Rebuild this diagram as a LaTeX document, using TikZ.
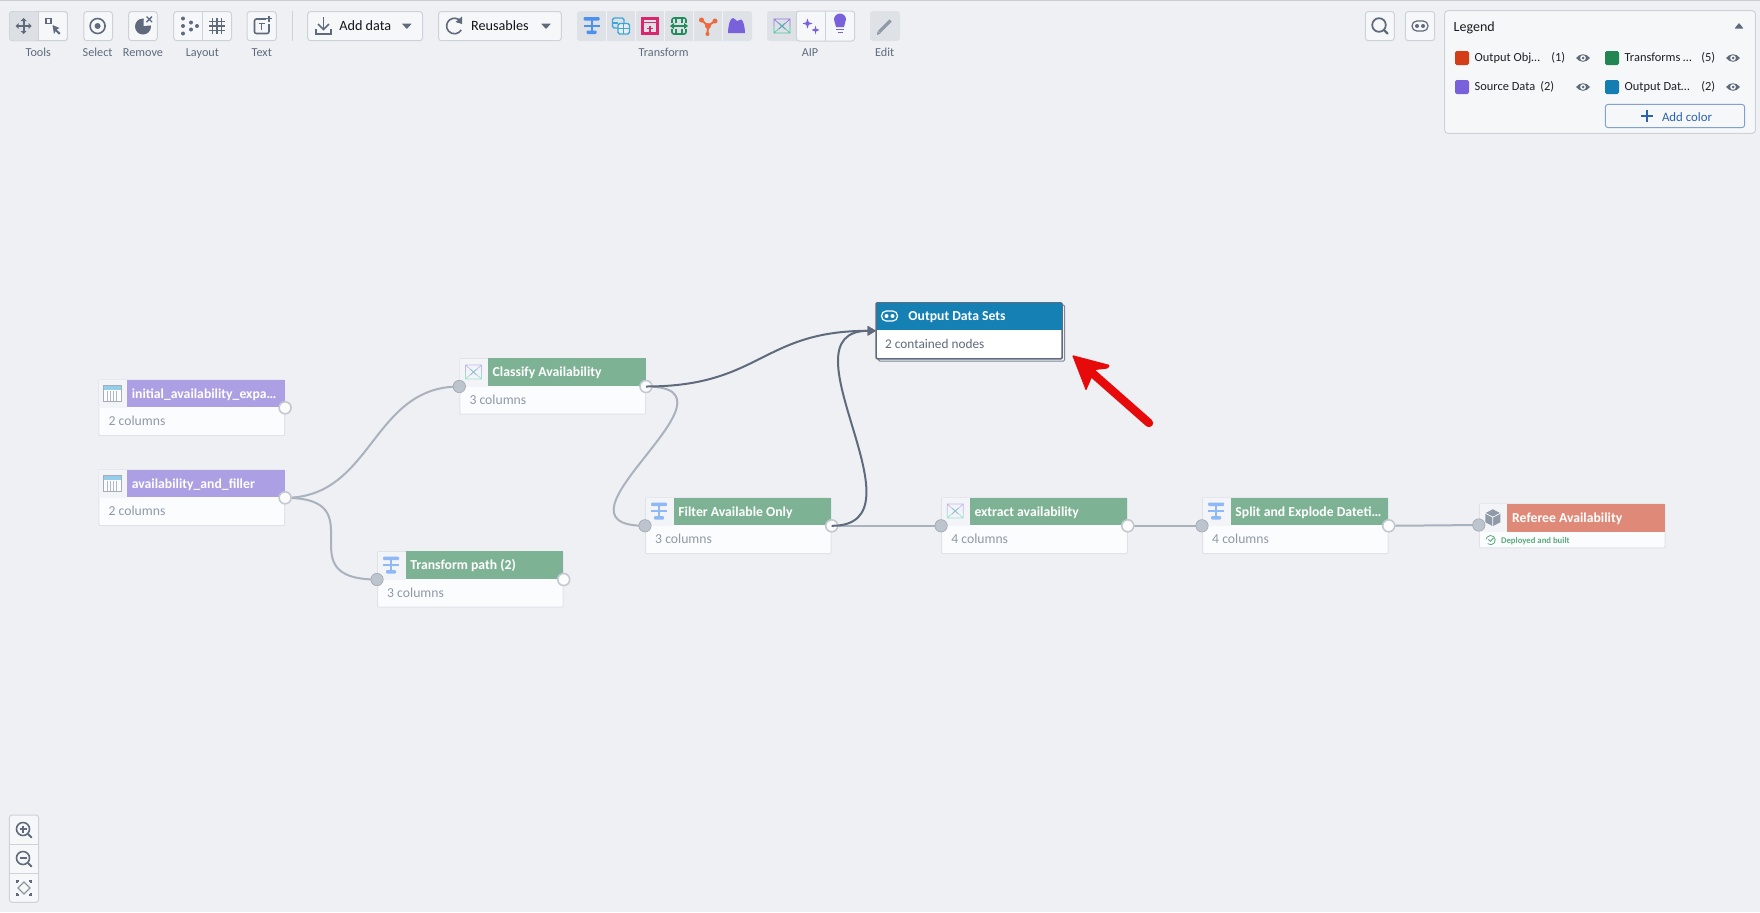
\documentclass[tikz,border=0pt]{standalone}
\usepackage{fontspec}
\setmainfont{Carlito}
\usetikzlibrary{arrows.meta,calc}
\definecolor{canvasc}{HTML}{EEF0F4}
\definecolor{labelc}{HTML}{5F6B7C}
\definecolor{subc}{HTML}{8F99A8}
\definecolor{edgec}{HTML}{A9B2BD}
\definecolor{darkedge}{HTML}{5F6B7C}
\definecolor{portfill}{HTML}{BCC4CD}
\definecolor{borderc}{HTML}{DFE3E8}
\definecolor{btnborder}{HTML}{CDD2D9}
\definecolor{btnfill}{HTML}{F6F7F9}
\definecolor{activec}{HTML}{DCDFE4}
\definecolor{iconc}{HTML}{5F6B7C}
\definecolor{headpurple}{HTML}{AC9FE4}
\definecolor{headgreen}{HTML}{7EB294}
\definecolor{headblue}{HTML}{1580B4}
\definecolor{headsalmon}{HTML}{DF8A78}
\definecolor{tblue}{HTML}{4C90F0}
\definecolor{tlight}{HTML}{8FB8F6}
\definecolor{tteal}{HTML}{3FA6DA}
\definecolor{tcrimson}{HTML}{D9266E}
\definecolor{tgreen}{HTML}{238C5C}
\definecolor{torange}{HTML}{EC6A3C}
\definecolor{tpurple}{HTML}{7961DB}
\definecolor{lorange}{HTML}{D33D17}
\definecolor{lgreen}{HTML}{238551}
\definecolor{lblue}{HTML}{147EB3}
\definecolor{addblue}{HTML}{2D62AE}
\definecolor{redarrow}{HTML}{E60A0A}
\definecolor{okgreen}{HTML}{5BA97F}
\pgfdeclarelayer{bg}\pgfdeclarelayer{edges}
\pgfsetlayers{bg,edges,main}
\tikzset{
  cardbody/.style={draw=borderc,line width=.5pt,fill=white!60!btnfill,minimum width=92.85pt,minimum height=27.85pt,inner sep=0pt,rounded corners=.5pt},
  cardicon/.style={fill=canvasc!70!white,minimum width=14pt,minimum height=13.85pt,inner sep=0pt},
  cardhead/.style={minimum width=78.85pt,minimum height=13.85pt,inner sep=0pt},
  cardtitle/.style={text=white,font=\fontsize{6.85}{8}\selectfont\bfseries,inner sep=0pt,text height=5pt,text depth=1.3pt},
  cardsub/.style={text=subc,font=\fontsize{6.85}{8}\selectfont,inner sep=0pt,text height=5pt,text depth=1.3pt},
  portin/.style={circle,fill=portfill,draw=portfill!85!black,line width=.3pt,minimum size=6.2pt,inner sep=0pt},
  portout/.style={circle,fill=white!80!canvasc,draw=edgec!70!white,line width=.8pt,minimum size=6pt,inner sep=0pt},
  lbl/.style={text=labelc,font=\fontsize{6.1}{7}\selectfont,inner sep=0pt,text height=4.4pt,text depth=1.2pt},
  btntext/.style={text=black!80!labelc,font=\fontsize{7.1}{8}\selectfont,inner sep=0pt,text height=5.2pt,text depth=1.3pt},
  lgd/.style={text=black!70!labelc,font=\fontsize{6.2}{8}\selectfont,inner sep=0pt,anchor=west,text height=4.5pt,text depth=1.2pt},
  toolbtn/.style={draw=btnborder,line width=.5pt,fill=btnfill,rounded corners=1.5pt},
  greybtn/.style={fill=activec!90!canvasc,rounded corners=1.5pt},
  edgeline/.style={draw=edgec,line width=1pt},
  darkline/.style={draw=darkedge,line width=1pt},
  arrowed/.style={-{Triangle[length=4.2pt,width=4.6pt]}},
}
\newcommand\card[6]{%
  \node[cardbody,anchor=north west] (#1) at (#2-.7,#3) {};
  \node[cardicon,anchor=north west] (#1-cell) at ([shift={(.25pt,-.25pt)}]#1.north west) {};
  \node[cardhead,fill=#4,anchor=north east] (#1-head) at (#1.north east) {};
  \node[cardtitle,anchor=west] (#1-title) at ([xshift=2.4pt,yshift=-.5pt]#1-head.west) {#5};
  \node[cardsub,anchor=west] (#1-sub) at ([xshift=4.9pt,yshift=-21.4pt]#1.north west) {#6};
}
\newcommand\inport[1]{\node[portin] (#1-in) at (#1-head.south west -| #1.west) {};}
\newcommand\outport[1]{\node[portout] (#1-out) at (#1-head.south east) {};}
\newcommand\icontransform[3]{\begin{scope}[shift={(#1,#2)}]
  \fill[#3,rounded corners=.5pt] (-8,-8.5) rectangle (8,-5);
  \fill[#3] (-8,-1) rectangle (8,1);
  \fill[#3] (-1,-8) rectangle (1,8);
  \fill[#3,rounded corners=.5pt] (-5,5) rectangle (5,8.5);
\end{scope}}
\newcommand\icontable[2]{\begin{scope}[shift={(#1,#2)}]
  \fill[white!60!btnfill] (-9,-8) rectangle (9,8);
  \fill[tteal!55!white] (-9,-8) rectangle (9,-3.5);
  \foreach \x in {-5,-2,1,4} \draw[subc!70!white,line width=.3pt] (\x,-3) -- (\x,7.5);
  \draw[subc!80!white,line width=.4pt] (-9,-8) rectangle (9,8);
\end{scope}}
\newcommand\iconhour[3]{\begin{scope}[shift={(#1,#2)},line width=.35pt,opacity=#3]
  \draw[tpurple] (-8,0) -- (-8,-7) -- (8,-7) -- (8,0) (-8,-7) -- (3,3) (8,-7) -- (-3,3);
  \draw[tteal!70!green] (-8,0) -- (-8,7) -- (8,7) -- (8,0) (-8,7) -- (3,-3) (8,7) -- (-3,-3);
\end{scope}}
\newcommand\iconeye[2]{\begin{scope}[shift={(#1,#2)}]
  \fill[iconc] (-7,0) .. controls (-3,-5) and (3,-5) .. (7,0) .. controls (3,5) and (-3,5) .. (-7,0);
  \fill[white] (0,0) circle (2.8);
  \fill[iconc] (0,0) circle (1.5);
\end{scope}}
\newcommand\iconpill[3]{\begin{scope}[shift={(#1,#2)}]
  \draw[#3,line width=.6pt,rounded corners=2.4pt] (-8,-5) rectangle (8,5);
  \fill[#3] (-3,0) circle (2) (3,0) circle (2);
\end{scope}}
\newcommand\caret[2]{\fill[iconc,rounded corners=.3pt] (#1-5,#2-2.5) -- (#1+5,#2-2.5) -- (#1,#2+3) -- cycle;}
\begin{document}
\begin{tikzpicture}[x=.5pt,y=-.5pt]
\useasboundingbox (0,0) rectangle (1760,912);
\begin{pgfonlayer}{bg}
  \fill[canvasc] (0,0) rectangle (1760,912);
  \fill[black!15!canvasc] (0,0) rectangle (1760,1.2);
\end{pgfonlayer}

% ---- cards
\card{initial}{99.1}{379.3}{headpurple}{initial\_availability\_expa…}{2 columns}
\card{avail}{99.1}{469.3}{headpurple}{availability\_and\_filler}{2 columns}
\card{classify}{460}{358}{headgreen}{Classify Availability}{3 columns}
\card{tpath}{377.7}{551}{headgreen}{Transform path (2)}{3 columns}
\card{filter}{645.7}{497.3}{headgreen}{Filter Available Only}{3 columns}
\card{extract}{941.8}{497.3}{headgreen}{extract availability}{4 columns}
\card{split}{1202.7}{497.3}{headgreen}{Split and Explode Dateti…}{4 columns}

% referee (short card)
\node[cardbody,minimum height=22pt,anchor=north west] (referee) at (1478.8,503.3) {};
\node[cardicon,anchor=north west] (referee-cell) at ([shift={(.25pt,-.25pt)}]referee.north west) {};
\node[cardhead,minimum height=14pt,fill=headsalmon,anchor=north east] (referee-head) at (referee.north east) {};
\node[cardtitle,anchor=west] (referee-title) at ([xshift=2.4pt,yshift=-.5pt]referee-head.west) {Referee Availability};
\node[inner sep=0pt,text=okgreen,font=\fontsize{4.35}{6}\selectfont\bfseries,anchor=west] (referee-sub) at (1500.7,540.8) {Deployed and built};
\node[portin] (referee-in) at (1478.8,525) {};

% output group
\node[draw=darkedge!80!white,line width=.5pt,fill=canvasc,minimum width=93pt,minimum height=28pt,inner sep=0pt,anchor=north west,rounded corners=.6pt] (outputback) at (878.1,304.6) {};
\node[draw=darkedge,line width=.8pt,fill=white,minimum width=93pt,minimum height=28pt,inner sep=0pt,anchor=north west,rounded corners=.6pt] (output) at (875.3,302) {};
\node[fill=headblue,minimum width=92.6pt,minimum height=13.8pt,inner sep=0pt,anchor=north] (output-head) at ([yshift=-.2pt]output.north) {};
\node[cardtitle,anchor=west] (output-title) at (908,316.6) {Output Data Sets};
\node[cardsub,text=labelc,font=\fontsize{6.65}{8}\selectfont,anchor=west] (output-sub) at (884.7,344.6) {2 contained nodes};
\coordinate (output-in) at (output-head.south west);

% ports
\foreach \n in {classify,tpath,filter,extract,split} {\inport{\n}}
\foreach \n in {initial,avail,classify,tpath,filter,extract,split} {\outport{\n}}

% card icons
\icontable{112.6}{393.5}
\icontable{112.6}{483.5}
\icontransform{391}{565}{tlight}
\icontransform{659}{511}{tlight}
\icontransform{1216}{511}{tlight}
\iconhour{473.5}{372}{.4}
\iconhour{955.2}{511}{.4}
\begin{scope}[shift={(1492.8,517.7)}]
  \fill[subc] (0,-8.5) -- (7.5,-4.5) -- (7.5,4.5) -- (0,8.5) -- (-7.5,4.5) -- (-7.5,-4.5) -- cycle;
  \draw[white,line width=.35pt] (-7.5,-4.5) -- (0,-.5) -- (7.5,-4.5) (0,-.5) -- (0,8.5);
\end{scope}
\begin{scope}[shift={(1490.7,539.8)}]
  \draw[okgreen,line width=.4pt] (-3,3.8) arc[start angle=130,end angle=-170,radius=4.6];
  \draw[okgreen,line width=.45pt] (-2.3,-.3) -- (-.4,1.6) -- (2.8,-2);
\end{scope}
\iconpill{889.5}{316}{white}

% connectors
\begin{pgfonlayer}{edges}
  \draw[edgeline] (avail-out.center) .. controls +(88,0) and +(-88,0) .. (classify-in.center);
  \draw[edgeline] (avail-out.center) .. controls +(93,0) and +(-93,0) .. (tpath-in.center);
  \draw[edgeline] (classify-out.center) .. controls +(109,0) and +(-109,0) .. (filter-in.center);
  \draw[edgeline] (filter-out.center) -- (extract-in.center);
  \draw[edgeline] (extract-out.center) -- (split-in.center);
  \draw[edgeline] (split-out.center) -- (referee-in.center);
\end{pgfonlayer}
\draw[darkline,arrowed] (classify-out.center) .. controls +(115,0) and +(-115,0) .. (output-in);
\draw[darkline,arrowed] (filter-out.center) .. controls +(99,0) and +(-99,0) .. (output-in);

% red annotation arrow
\coordinate (redtail) at (1149,423);
\coordinate (rednear) at (1090,371);
\draw[redarrow,line width=4.2pt,line cap=round] (redtail) -- (rednear);
\fill[redarrow,rounded corners=.6pt] (1072,355) -- (1110,365) -- (1108,368.5) -- (1095,370) -- (1089,384) -- (1086,391) -- cycle;

% ---- toolbar
\fill[toolbtn] (9.6,11.5) rectangle (67.4,40.7);
\draw[toolbtn] (9.6,11.5) rectangle (67.4,40.7);
\fill[activec,rounded corners=1.5pt] (9.8,11.7) rectangle (38.6,40.5);
\draw[btnborder,line width=.5pt] (38.6,11.5) -- (38.6,40.7);
\draw[toolbtn] (83.8,11.5) rectangle (112.5,40.7);
\draw[toolbtn] (128.6,11.5) rectangle (157.3,40.7);
\draw[toolbtn] (173.7,11.5) rectangle (231.5,40.7);
\draw[btnborder,line width=.5pt] (202.4,11.5) -- (202.4,40.7);
\draw[toolbtn] (247,11.5) rectangle (276.3,40.7);
\draw[btnborder,line width=.5pt] (292.8,11) -- (292.8,40.5);
\draw[toolbtn] (307.7,11.5) rectangle (422.5,40.7);
\draw[toolbtn] (438.5,11.5) rectangle (561.4,40.7);
% tools icons
\begin{scope}[shift={(23.7,26)},iconc]
  \draw[iconc,line width=.9pt] (-6,0) -- (6,0) (0,-6) -- (0,6);
  \fill[iconc] (-8,0) -- (-5,-3) -- (-5,3) -- cycle (8,0) -- (5,-3) -- (5,3) -- cycle (0,-8) -- (-3,-5) -- (3,-5) -- cycle (0,8) -- (-3,5) -- (3,5) -- cycle;
\end{scope}
\begin{scope}[shift={(52.5,26)}]
  \draw[iconc,line width=.8pt] (-6.5,-7.5) rectangle (-1.5,-2.5);
  \fill[iconc] (0,-1) -- (7,2) -- (4,3.5) -- (8,7) -- (6.5,8.5) -- (3,5) -- (1.5,8) -- cycle;
\end{scope}
\draw[iconc,line width=.8pt] (97.6,26) circle (7.5);
\fill[iconc] (97.6,26) circle (3);
% remove icon: pie with a bite and a cross
\fill[iconc] (143,26.5) circle (8);
\fill[btnfill] (143.5,26) -- (144,14) -- (156,14) -- (156,25) -- cycle;
\draw[iconc,line width=.7pt] (146.5,16.5) -- (152,22) (152,16.5) -- (146.5,22);
\foreach \a/\b in {183/18.5,183/26,183/33.5,191/22.5,191/29.5,197/26} \fill[iconc] (\a,\b) circle (2);
\draw[iconc,line width=.8pt] (209,21.5) -- (225,21.5) (209,30.5) -- (225,30.5) (212.5,18) -- (212.5,34) (221.5,18) -- (221.5,34) (209,26) -- (225,26) (217,18) -- (217,34);
\draw[iconc,line width=.8pt,rounded corners=1pt] (266,19) -- (254.5,19) -- (254.5,33.5) -- (269,33.5) -- (269,24);
\draw[iconc,line width=.6pt] (258.5,23.5) -- (265,23.5) (261.8,23.5) -- (261.8,30);
\draw[iconc,line width=.6pt] (269,16) -- (269,21.5) (266.2,18.8) -- (271.8,18.8);
\draw[iconc,line width=.8pt] (323.5,17) -- (323.5,29);
\draw[iconc,line width=.8pt] (318,24) -- (323.5,29.5) -- (329,24);
\draw[iconc,line width=.8pt] (316,29) -- (316,34) -- (331,34) -- (331,29);
% refresh icon (y axis runs downward, so angles are mirrored)
\draw[iconc,line width=.8pt] (460.4,21) arc[start angle=-40,end angle=-330,radius=7.8];
\fill[iconc] (462,16.5) -- (462,24) -- (455.5,22) -- cycle;
\node[btntext,anchor=west] (adddata) at (339,26.5) {Add data};
\node[btntext,anchor=west] (reusables) at (470.7,26.5) {Reusables};
\caret{406.8}{26}
\caret{546}{26}

% transform group
\fill[greybtn] (577,11) rectangle (752,41);
\foreach \x in {606.7,635.7,664.7,693.7,722.7} \draw[white!60!activec,line width=.4pt] (\x,11) -- (\x,41);
\icontransform{591.7}{25.5}{tblue}
\begin{scope}[shift={(621,26)},tteal]
  \draw[tteal,line width=.7pt,rounded corners=.8pt] (-8.5,-8) rectangle (3,2);
  \fill[white!40!activec] (-3,-2.5) rectangle (8.5,8);
  \draw[tteal,line width=.7pt,rounded corners=.8pt] (-3,-2.5) rectangle (8.5,8);
  \draw[tteal,line width=.6pt] (-3,2.7) -- (8.5,2.7) (2.8,-2.5) -- (2.8,8) (-8.5,-3) -- (-3,-3);
\end{scope}
\begin{scope}[shift={(650,26)}]
  \draw[tcrimson,line width=1.1pt] (-7.5,-7.5) rectangle (7.5,7.5);
  \draw[tcrimson,line width=.8pt] (-7.5,-3.5) -- (7.5,-3.5);
  \draw[tcrimson,line width=.8pt] (-3,2.5) -- (3,2.5) (0,-.5) -- (0,5.5);
\end{scope}
\begin{scope}[shift={(679,26)}]
  \draw[tgreen,line width=.8pt,rounded corners=1pt] (-7,-8) rectangle (7,8);
  \draw[tgreen,line width=.8pt] (-3,-8) -- (-3,8) (3,-8) -- (3,8);
  \fill[activec] (-8,-3) rectangle (8,3);
  \draw[tgreen,line width=.8pt,{Triangle[length=2pt,width=3pt]}-{Triangle[length=2pt,width=3pt]}] (-9,0) -- (9,0);
\end{scope}
\begin{scope}[shift={(708,26)}]
  \draw[torange,line width=1pt] (-6.5,-6) -- (0,0) -- (7,-5) (0,0) -- (-.5,8);
  \fill[torange] (-6.5,-6) circle (2.5) (7,-5) circle (2.5) (0,0) circle (3) (-.5,8) circle (2);
\end{scope}
\fill[tpurple] (728,33) .. controls (728,26) and (730,18) .. (733,18) .. controls (735.5,18) and (735.5,21) .. (737,21) .. controls (739,21) and (739.5,19.5) .. (741,19.5) .. controls (743,19.5) and (745,27) .. (745,33) -- cycle;

% AIP group
\fill[greybtn] (767,11) rectangle (854.7,41);
\fill[btnfill,rounded corners=1.5pt] (796.3,11) rectangle (854.7,41);
\draw[toolbtn,fill=none] (796.3,11) rectangle (854.7,41);
\draw[btnborder,line width=.5pt] (825.7,11) -- (825.7,41);
\iconhour{782}{26}{.8}
\fill[tpurple] (807.5,18.5) -- (808.8,22.2) -- (812.5,23.5) -- (808.8,24.8) -- (807.5,28.5) -- (806.2,24.8) -- (802.5,23.5) -- (806.2,22.2) -- cycle;
\fill[tpurple] (815.5,25.5) -- (816.3,28.7) -- (819.5,30) -- (816.3,31.3) -- (815.5,34.5) -- (814.7,31.3) -- (811.5,30) -- (814.7,28.7) -- cycle;
% bulb (mirrored angles)
\fill[tpurple] (836,27) .. controls (836,24) and (834,22.5) .. (834,19.5) arc[start angle=180,end angle=360,radius=6] .. controls (846,22.5) and (844,24) .. (844,27) -- cycle;
\draw[tpurple,line width=.8pt] (836,29.5) -- (844,29.5);
\draw[tpurple,line width=.8pt] (837.5,32.5) -- (842.5,32.5);
% edit
\fill[greybtn] (870,11) rectangle (900,41);
\draw[subc,line width=1.6pt] (879,32) -- (890.5,20.5);
\fill[subc] (877,35) -- (877.6,31.2) -- (880.4,33.6) -- cycle;

% toolbar labels
\node[lbl] (l-tools) at (38.3,53.2) {Tools};
\node[lbl] (l-select) at (97.6,53.2) {Select};
\node[lbl] (l-remove) at (143,53.2) {Remove};
\node[lbl] (l-layout) at (202.4,53.2) {Layout};
\node[lbl] (l-text) at (261.8,53.2) {Text};
\node[lbl] (l-transform) at (663.7,53.2) {Transform};
\node[lbl] (l-aip) at (810,53.2) {AIP};
\node[lbl] (l-edit) at (884.7,53.2) {Edit};

% ---- top right
\draw[toolbtn] (1365.3,11.5) rectangle (1394.3,40.7);
\draw[toolbtn] (1405.3,11.5) rectangle (1434.7,40.7);
\draw[iconc,line width=.9pt] (1379,25) circle (6.8);
\draw[iconc,line width=1.1pt,line cap=round] (1384,30) -- (1387.5,33.5);
\iconpill{1420}{26}{iconc}
\draw[draw=btnborder,line width=.5pt,fill=btnfill,rounded corners=1.5pt] (1444.7,10.7) rectangle (1755.3,133.3);
\node[text=black!75!labelc,font=\fontsize{7}{8}\selectfont,inner sep=0pt,anchor=west] (legendtitle) at (1453.3,27.5) {Legend};
\fill[iconc,rounded corners=.3pt] (1734.5,28.5) -- (1743.5,28.5) -- (1739,23) -- cycle;
\fill[lorange,rounded corners=.8pt] (1455,51) rectangle (1469,65);
\fill[lgreen,rounded corners=.8pt] (1605,51) rectangle (1619,65);
\fill[tpurple,rounded corners=.8pt] (1455,80) rectangle (1469,94);
\fill[lblue,rounded corners=.8pt] (1605,80) rectangle (1619,94);
\node[lgd] (lg1) at (1474.3,58.5) {Output Obj…};
\node[lgd] (lg1n) at (1551,58.5) {(1)};
\node[lgd] (lg2) at (1624.3,58.5) {Transforms …};
\node[lgd] (lg2n) at (1701,58.5) {(5)};
\node[lgd] (lg3) at (1474.3,87.5) {Source Data};
\node[lgd] (lg3n) at (1540,87.5) {(2)};
\node[lgd] (lg4) at (1624.3,87.5) {Output Dat…};
\node[lgd] (lg4n) at (1701,87.5) {(2)};
\iconeye{1583}{58}
\iconeye{1733}{58}
\iconeye{1583}{87}
\iconeye{1733}{87}
\draw[draw=addblue!60!white,line width=.5pt,rounded corners=1.5pt] (1605.3,104.3) rectangle (1744.7,127.7);
\draw[addblue,line width=.8pt] (1641,116) -- (1652.5,116) (1646.7,110.2) -- (1646.7,121.8);
\node[text=addblue,font=\fontsize{6.4}{8}\selectfont,inner sep=0pt] (addcolor) at (1687,117.5) {Add color};

% ---- zoom controls
\draw[toolbtn] (9.3,815) rectangle (38.7,902.3);
\draw[btnborder,line width=.5pt] (9.3,844) -- (38.7,844) (9.3,873.3) -- (38.7,873.3);
\draw[iconc,line width=.8pt] (23,829) circle (6.5);
\draw[iconc,line width=1pt,line cap=round] (28,834) -- (31.5,837.5);
\draw[iconc,line width=.6pt] (19.5,829) -- (26.5,829) (23,825.5) -- (23,832.5);
\draw[iconc,line width=.8pt] (23,858) circle (6.5);
\draw[iconc,line width=1pt,line cap=round] (28,863) -- (31.5,866.5);
\draw[iconc,line width=.6pt] (19.5,858) -- (26.5,858);
\draw[iconc!70!white,line width=.6pt] (24,882) -- (30,888) -- (24,894) -- (18,888) -- cycle;
\draw[iconc,line width=.8pt] (17,883) -- (17,881) -- (19,881) (29,881) -- (31,881) -- (31,883) (31,893) -- (31,895) -- (29,895) (19,895) -- (17,895) -- (17,893);
\end{tikzpicture}
\end{document}
